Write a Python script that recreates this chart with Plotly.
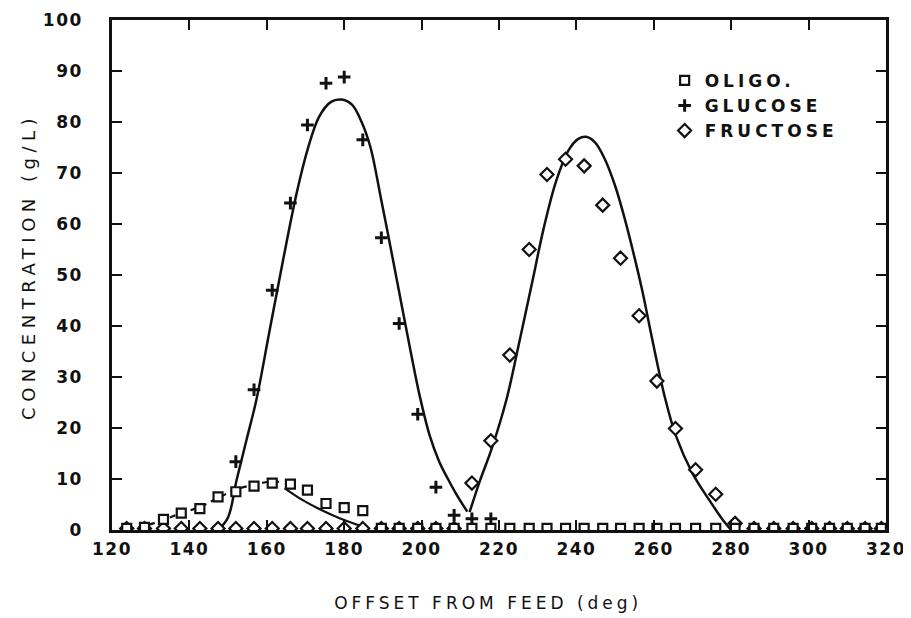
import plotly.graph_objects as go

# ---------------- data ----------------
# measured points (offset from feed in degrees, concentration g/L)
oligo_x = [123.8, 128.4, 133.3, 137.9, 142.7, 147.4, 152.0, 156.7, 161.4, 166.1, 170.5, 175.3, 180.0, 184.8,
           189.6, 194.2, 199.0, 203.7, 208.4, 213.0, 217.9, 222.8, 227.8, 232.4, 237.2, 242.0, 246.8, 251.4,
           256.2, 260.8, 265.6, 270.8, 276.0, 281.0, 285.9, 291.0, 296.0, 300.8, 305.4, 310.0, 314.6, 318.8]
oligo_y = [0.3, 0.5, 2.1, 3.3, 4.2, 6.5, 7.5, 8.6, 9.2, 9.0, 7.8, 5.2, 4.4, 3.8,
           0.3, 0.3, 0.3, 0.3, 0.3, 0.3, 0.3, 0.3, 0.3, 0.3, 0.3, 0.3, 0.3, 0.3,
           0.3, 0.3, 0.3, 0.3, 0.3, 0.3, 0.3, 0.3, 0.3, 0.3, 0.3, 0.3, 0.3, 0.3]

glucose_x = [152.0, 156.7, 161.4, 166.1, 170.5, 175.3, 180.0, 184.8, 189.6, 194.2, 199.0, 203.7, 208.4, 213.0, 217.9]
glucose_y = [13.4, 27.5, 47.0, 64.1, 79.4, 87.6, 88.8, 76.5, 57.3, 40.5, 22.7, 8.4, 2.9, 2.2, 2.2]

fructose_x = [123.8, 128.4, 133.3, 137.9, 142.7, 147.4, 152.0, 156.7, 161.4, 166.1, 170.5, 175.3, 180.0, 184.8,
              189.6, 194.2, 199.0, 203.7, 208.4, 213.0, 217.9, 222.8, 227.8, 232.4, 237.2, 242.0, 246.8, 251.4,
              256.2, 260.8, 265.6, 270.8, 276.0, 281.0, 285.9, 291.0, 296.0, 300.8, 305.4, 310.0, 314.6, 318.8]
fructose_y = [0.3, 0.3, 0.3, 0.3, 0.3, 0.3, 0.3, 0.3, 0.3, 0.3, 0.3, 0.3, 0.3, 0.3,
              0.3, 0.3, 0.3, 0.3, 0.3, 9.2, 17.5, 34.3, 55.0, 69.7, 72.7, 71.4, 63.7, 53.3,
              42.0, 29.2, 19.9, 11.8, 7.0, 1.3, 0.3, 0.3, 0.3, 0.3, 0.3, 0.3, 0.3, 0.3]

# fitted (model) curves
glucose_fit_x = [147.5, 150.0, 152.2, 154.7, 157.3, 160.7, 164.2, 167.7, 170.5, 173.5, 176.5, 179.3, 182.0,
                 184.5, 186.8, 189.5, 192.6, 195.0, 197.3, 199.6, 202.1, 204.5, 206.6, 209.0, 211.8]
glucose_fit_y = [0.0, 2.5, 9.8, 17.5, 25.5, 39.0, 52.9, 66.0, 74.5, 81.0, 83.9, 84.4, 83.4,
                 80.0, 75.0, 65.0, 53.0, 43.5, 34.5, 26.0, 18.5, 13.5, 10.3, 7.0, 3.6]

fructose_fit_x = [212.4, 215.0, 218.0, 221.9, 225.0, 228.7, 231.5, 234.8, 238.0, 240.5, 242.5, 244.8, 247.3,
                  250.0, 252.5, 255.0, 257.0, 259.7, 262.7, 265.7, 270.0, 274.3, 278.2, 280.0]
fructose_fit_y = [3.5, 9.5, 15.7, 25.5, 36.0, 49.0, 59.0, 68.5, 74.5, 76.7, 77.1, 76.0, 72.8,
                  67.5, 61.0, 53.5, 47.0, 37.0, 26.5, 18.5, 11.1, 5.9, 1.6, 0.0]

oligo_rise_x = [124.0, 128.4, 133.3, 137.9, 142.7, 147.4, 152.0, 156.7, 161.0, 163.5]
oligo_rise_y = [0.2, 0.8, 2.0, 3.3, 4.5, 6.3, 7.9, 8.9, 9.5, 9.4]
oligo_fall_x = [164.6, 168.5, 174.1, 178.8, 183.5, 185.5]
oligo_fall_y = [8.2, 6.2, 3.9, 2.3, 1.0, 0.5]

x_ticks = [120, 140, 160, 180, 200, 220, 240, 260, 280, 300, 320]
y_ticks = [0, 10, 20, 30, 40, 50, 60, 70, 80, 90, 100]

# ---------------- figure ----------------
INK = "#111111"
FONT = "DejaVu Sans"


def spaced(s, px):
    return f'<span style="letter-spacing:{px}px">{s}</span>'


fig = go.Figure()

curve_line = dict(color=INK, width=2.5)
fig.add_trace(go.Scatter(x=glucose_fit_x, y=glucose_fit_y, mode="lines", line=dict(curve_line, shape="spline"),
                         showlegend=False, hoverinfo="skip"))
fig.add_trace(go.Scatter(x=fructose_fit_x, y=fructose_fit_y, mode="lines", line=dict(curve_line, shape="spline"),
                         showlegend=False, hoverinfo="skip"))
fig.add_trace(go.Scatter(x=oligo_rise_x, y=oligo_rise_y, mode="lines",
                         line=dict(color=INK, width=2.2, dash="6px,5px", shape="spline"),
                         showlegend=False, hoverinfo="skip"))
fig.add_trace(go.Scatter(x=oligo_fall_x, y=oligo_fall_y, mode="lines",
                         line=dict(color=INK, width=2.2, shape="spline"),
                         showlegend=False, hoverinfo="skip"))

fig.add_trace(go.Scatter(x=fructose_x, y=fructose_y, mode="markers", name=spaced("FRUCTOSE", 4),
                         marker=dict(symbol="diamond", size=10, color="white",
                                     line=dict(color=INK, width=2.2)), legendrank=3))
fig.add_trace(go.Scatter(x=oligo_x, y=oligo_y, mode="markers", name=spaced("OLIGO.", 4),
                         marker=dict(symbol="square", size=9, color="white",
                                     line=dict(color=INK, width=2.2)), legendrank=1))
fig.add_trace(go.Scatter(x=glucose_x, y=glucose_y, mode="markers", name=spaced("GLUCOSE", 4),
                         marker=dict(symbol="cross-thin", size=9, color=INK,
                                     line=dict(color=INK, width=3)), legendrank=2))

axis_common = dict(showline=True, linewidth=2.5, linecolor=INK, mirror="ticks", ticks="inside",
                   ticklen=10, tickwidth=2, tickcolor=INK, showgrid=False, zeroline=False,
                   automargin=False,
                   tickfont=dict(family=FONT, size=17, color=INK, weight="bold"))

fig.update_xaxes(range=[120, 320], tickvals=x_ticks, ticktext=[spaced(str(v), 1.5) for v in x_ticks],
                 ticklabelstandoff=2,
                 title=dict(text=spaced("OFFSET FROM FEED (deg)", 4) + "&nbsp;&nbsp;&nbsp;&nbsp;", standoff=39,
                            font=dict(family=FONT, size=17, color=INK)),
                 **axis_common)
fig.update_yaxes(range=[0, 100], tickvals=y_ticks, ticktext=[spaced(str(v), 1.5) for v in y_ticks],
                 ticklabelstandoff=23,
                 title=dict(text="&nbsp;&nbsp;&nbsp;" + spaced("CONCENTRATION (g/L)", 5.5), standoff=3,
                            font=dict(family=FONT, size=18, color=INK)),
                 **axis_common)

# the page body adds an 8px offset, so the figure is 8px smaller than the window
fig.update_layout(
    width=903, height=610,
    margin=dict(l=104, r=25, t=12, b=88),
    paper_bgcolor="white", plot_bgcolor="white",
    font=dict(family=FONT, color=INK),
    legend=dict(x=0.714, y=0.916, xanchor="left", yanchor="top", bgcolor="rgba(0,0,0,0)",
                font=dict(family=FONT, size=17, color=INK, weight="bold"),
                traceorder="normal", tracegroupgap=0, itemwidth=30),
)

fig.write_html("out.html")
